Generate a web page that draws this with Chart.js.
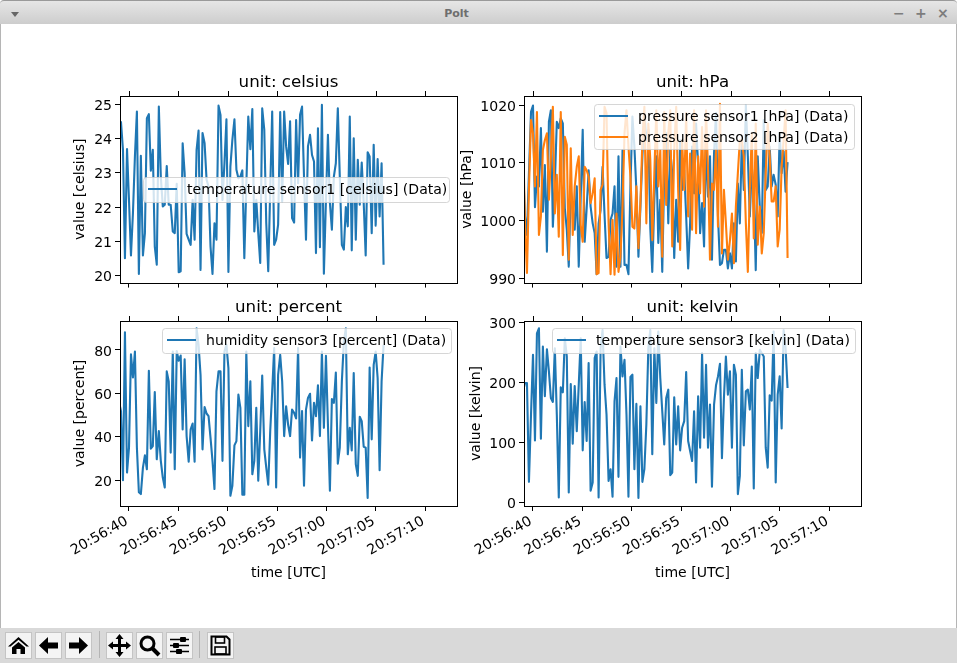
<!DOCTYPE html>
<html>
<head>
<meta charset="utf-8">
<title>Polt</title>
<script src="https://cdn.jsdelivr.net/npm/chart.js@4"></script>
<style>
  html, body { margin: 0; padding: 0; background: #fff; }
  body { width: 957px; height: 663px; position: relative; overflow: hidden; font-family: "DejaVu Sans", sans-serif; }
  canvas { position: absolute; }
  #titlebar { position: absolute; left: 0; top: 0; width: 957px; height: 24px; box-sizing: border-box;
    background: linear-gradient(#e6e6e6, #cdcdcd); border-top: 1px solid #9a9a9a; border-radius: 4px 4px 0 0;
    padding-right: 44px; text-align: center; font: bold 11px/26px "DejaVu Sans", sans-serif; color: #6e6e6e; }
  .winbtn { position: absolute; top: 0; font: bold 14px/25px "DejaVu Sans", sans-serif; color: #7d7d7d; }
  #menu { position: absolute; left: 11px; top: 11px; width: 0; height: 0; border-left: 4px solid transparent; border-right: 4px solid transparent; border-top: 5px solid #666; }
  #edge { position: absolute; left: 0; top: 24px; width: 955px; height: 604px; border-left: 1px solid #b5b5b5; border-right: 1px solid #b5b5b5; }
  #toolbar { position: absolute; left: 0; top: 628px; width: 957px; height: 35px; background: #d9d9d9; }
  .btn { position: absolute; top: 4px; width: 25px; height: 25px; background: #f4f4f4; border: 1px solid #fff; outline: 1px solid #c4c4c4; outline-offset: -1px; }
  .btn svg { width: 25px; height: 25px; display: block; }
  .sep { position: absolute; top: 3px; width: 1px; height: 27px; background: #b4b4b4; }
</style>
</head>
<body>
<div id="titlebar">Polt
  <span id="menu"></span>
  <span class="winbtn" style="left:893px">−</span>
  <span class="winbtn" style="left:915px">+</span>
  <span class="winbtn" style="left:937px">×</span>
</div>
<div id="edge"></div>
<canvas id="celsius" width="403" height="224" style="left:60px;top:70px"></canvas>
<canvas id="hpa" width="414" height="224" style="left:459px;top:70px"></canvas>
<canvas id="percent" width="403" height="291" style="left:60px;top:295px"></canvas>
<canvas id="kelvin" width="414" height="291" style="left:459px;top:295px"></canvas>
<div id="toolbar">
  <div class="btn" style="left:5px"><svg viewBox="0 0 25 25"><path d="M12.5 4 L23 13.5 L20.5 13.5 L12.5 6.8 L4.5 13.5 L2 13.5 Z M6 14.5 L12.5 9 L19 14.5 L19 21 L14.5 21 L14.5 16 L10.5 16 L10.5 21 L6 21 Z" fill="#000"/></svg></div>
  <div class="btn" style="left:35px"><svg viewBox="0 0 25 25"><path d="M3 12.5 L12 4 L12 9.5 L22 9.5 L22 15.5 L12 15.5 L12 21 Z" fill="#000"/></svg></div>
  <div class="btn" style="left:65px"><svg viewBox="0 0 25 25"><path d="M22 12.5 L13 4 L13 9.5 L3 9.5 L3 15.5 L13 15.5 L13 21 Z" fill="#000"/></svg></div>
  <div class="sep" style="left:99px"></div>
  <div class="btn" style="left:106px"><svg viewBox="0 0 25 25"><path d="M12.5 1 L16.5 6 L14 6 L14 11 L19 11 L19 8.5 L24 12.5 L19 16.5 L19 14 L14 14 L14 19 L16.5 19 L12.5 24 L8.5 19 L11 19 L11 14 L6 14 L6 16.5 L1 12.5 L6 8.5 L6 11 L11 11 L11 6 L8.5 6 Z" fill="#000"/></svg></div>
  <div class="btn" style="left:136px"><svg viewBox="0 0 25 25"><circle cx="10.5" cy="10.5" r="6.5" fill="none" stroke="#000" stroke-width="3"/><path d="M15 15 L22 22" stroke="#000" stroke-width="4"/></svg></div>
  <div class="btn" style="left:166px"><svg viewBox="0 0 25 25"><path d="M3 6.5 H22 M3 12.5 H22 M3 18.5 H22" stroke="#000" stroke-width="1.4"/><rect x="13" y="4" width="6" height="5" rx="1" fill="#000"/><rect x="6" y="10" width="6" height="5" rx="1" fill="#000"/><rect x="9" y="16" width="6" height="5" rx="1" fill="#000"/></svg></div>
  <div class="sep" style="left:199px"></div>
  <div class="btn" style="left:207px"><svg viewBox="0 0 25 25"><path d="M3.5 3.5 H18.5 L21.5 6.5 V21.5 H3.5 Z" fill="#f4f4f4" stroke="#000" stroke-width="2"/><rect x="7.5" y="4" width="9" height="6" fill="none" stroke="#000" stroke-width="1.6"/><rect x="7" y="14" width="11" height="7" fill="none" stroke="#000" stroke-width="1.6"/></svg></div>
</div>
<script>
// seconds past 20:56:00
const timeSeconds = [39.00,39.20,39.40,39.60,39.81,40.01,40.21,40.41,40.61,40.81,
  41.01,41.21,41.42,41.62,41.82,42.02,42.22,42.42,42.62,42.82,
  43.03,43.23,43.43,43.63,43.83,44.03,44.23,44.44,44.64,44.84,
  45.04,45.24,45.44,45.64,45.84,46.05,46.25,46.45,46.65,46.85,
  47.05,47.25,47.45,47.66,47.86,48.06,48.26,48.46,48.66,48.86,
  49.07,49.27,49.47,49.67,49.87,50.07,50.27,50.47,50.68,50.88,
  51.08,51.28,51.48,51.68,51.88,52.08,52.29,52.49,52.69,52.89,
  53.09,53.29,53.49,53.70,53.90,54.10,54.30,54.50,54.70,54.90,
  55.10,55.31,55.51,55.71,55.91,56.11,56.31,56.51,56.72,56.92,
  57.12,57.32,57.52,57.72,57.92,58.12,58.33,58.53,58.73,58.93,
  59.13,59.33,59.53,59.73,59.94,60.14,60.34,60.54,60.74,60.94,
  61.14,61.34,61.55,61.75,61.95,62.15,62.35,62.55,62.75,62.96,
  63.16,63.36,63.56,63.76,63.96,64.16,64.36,64.57,64.77,64.97,
  65.17,65.37,65.57,65.77];

const temperature1 = [24.48,24.48,23.67,20.51,23.69,22.21,20.59,21.83,23.48,24.79,
  20.05,23.5,20.59,21.24,24.59,24.71,23.06,23.67,20.85,20.32,
  24.93,22.89,22.02,22.07,23.2,22.07,22.07,21.29,21.24,22.68,
  20.1,20.13,23.86,22.99,21.22,21.05,20.9,22.21,21.05,23.67,
  24.23,20.17,24.16,23.86,22.8,22.6,20.85,20.05,21.53,21.05,
  24.96,24.69,22.21,23.28,24.56,20.11,23.18,23.96,24.56,23.09,
  22.84,22.89,23.07,20.51,22.6,24.64,23.69,24.86,21.29,22.21,
  21.24,20.37,24.88,24.25,21.53,20.13,22.5,24.79,20.9,21.05,
  21.49,24.77,22.16,24.79,23.77,23.26,24.5,21.68,21.55,24.54,
  22.7,24.69,24.93,22.89,21.05,23.77,24.11,23.52,23.33,20.66,
  24.3,20.83,24.98,20.06,22.21,24.11,22.12,21.34,22.89,23.28,
  24.88,22.89,20.9,20.76,22.0,21.44,24.64,20.74,24.01,21.05,
  23.38,22.07,23.3,22.12,20.59,23.6,23.48,21.24,23.82,21.46,
  23.4,21.73,23.28,20.32];

const pressure1 = [1009.3,1000.7,997.5,1008.2,1018.8,1019.9,1002.3,1007.6,1005.9,1016,
  1001.5,1009.6,994.6,1017.1,1019.1,998.9,1006.4,1017.1,1016,1017.7,
  1016.8,1002.1,998.4,992,1005.3,1002.4,998.4,1005.9,992,1004.1,
  1015.7,996.3,1002.1,1008.7,1002.4,999.5,997.8,990.7,999.5,1001.8,
  1009.3,1001,993.5,993.7,1000.1,1001.2,1005.9,992,1011.1,992,
  1012.2,992.3,992.3,990.7,1005.9,1018,1012.8,1005.3,993.7,1002.4,
  1011.1,1018.6,1013.9,1015.7,998.6,991.1,1003.6,1011.1,996.1,1003.6,
  991.1,1008.2,1015.1,999.5,1012.2,1008.2,993.5,1003.6,996.3,1013.9,
  1005.3,1008.7,1000.7,991.7,999.5,1012.8,1004.7,1016.8,1009.6,997.8,
  1003,995.5,1013.9,1004.1,1011.1,993.2,1011.6,1018.6,1000.7,992.3,
  992.6,994.9,994.9,991.7,994.3,991.7,999.5,992.9,1006.4,999.5,
  1013.9,1005.3,1020,1011.1,1000.7,1009.3,1005.3,991.4,1011.1,1002.4,
  997.8,1017.4,1005.3,1005.9,1012.8,1005.9,1007.9,1006.2,1000.7,1015.1,
  1008.2,1012,1005,1010.1];

const pressure2 = [1015.1,999.5,990.9,1005.3,1017.4,1015.1,1005.9,1018.8,997.5,1000.7,
  1012.2,1013.9,1015.1,1003.6,1011.1,1019.7,1001.2,1007.9,997.2,1018.8,
  994,1014.5,1013.1,993.2,1012.5,997.5,1005.9,1009.3,1011.1,999.2,
  996.3,1009.3,1008.7,1007.6,1003,1004.7,1007.3,990.7,990.9,1005.3,
  1006.2,1019.7,1018.6,999.5,990.7,1000.1,990.6,1001.2,991.1,993.7,
  1002.4,1015.1,1019.1,1012.8,1007.6,998.9,998.6,1005.9,995.2,1003,
  1013.9,1019.7,999.5,1016.8,1010.5,996.6,1008.2,1019.1,1005.9,1012.2,
  993.7,1018.8,1002.7,1015.1,1019.1,995.5,1012.2,1019.7,1005.3,994.9,
  1013.9,1005.3,1018.6,1000.7,1011.6,998.4,1019.1,997.8,1011.1,1004.7,
  1016.2,1002.4,1019.1,1008.7,993.2,1006.4,1005.3,1012.2,998.9,1020.2,
  994.3,1005.3,999.5,993.2,996.6,1001.2,992.6,1002.4,1008.2,1013.9,
  1013.9,1011.1,999.5,991.1,1005.3,1015.1,996.9,1016.8,995.8,1002.4,
  994.3,997.8,1008.2,1016.8,1011.1,1003.3,1003.3,1005.9,995.5,998.4,
  1009.3,1013.9,1019.1,993.5];

const humidity3 = [56.3,51.8,20,88.1,23.5,35,78,67.3,79.2,35,
  14.4,13.6,25.8,31.4,25,70.4,34.5,35.7,60.6,29.6,
  42.6,28.9,21.2,16.6,70.1,65.5,32.7,79.2,25,79.5,
  75,77.4,43.4,75.7,40.3,28.5,43.4,46.1,28.5,89.9,
  82.3,68.5,34.2,53.7,50.7,49.5,39.5,28.9,15.9,60.9,
  70.1,70.1,28.9,79.2,82.3,71.6,12.8,17.4,36,38,
  59.4,53.3,13.3,13.3,79.2,44.9,65.5,22.7,28.9,53.3,
  19.7,42.6,68.2,34.2,25.8,17.9,42.6,60.9,80.8,16.6,
  68.5,77.7,65.5,40.3,54,45.6,40.3,52.5,51,48.4,
  80.8,30.4,51.8,17.4,52.5,57.9,59.8,38.3,55.6,49.5,
  63.7,40.3,79.2,44.1,77.3,45.6,15.1,57.4,55.6,69.6,
  27.6,35,65.5,83.8,89.9,31.9,44.1,33.7,69.3,27.3,
  22,49.2,47.2,35.4,35,11.8,71.9,38.8,73.1,79.2,
  67,24.6,65.5,82.3];

const temperature3 = [185.3,199.1,199.1,34.7,146.7,245.9,103.6,281.8,290.1,106.4,
  259.7,177,255.3,218.4,174.2,167.6,257,146.7,8.8,191.9,
  183.6,273.5,243.2,17,197.4,98.1,194.1,119.1,196.3,273.5,
  87.1,167.6,102.5,232.2,19.8,33.6,240.4,251.5,8.8,257,
  287.3,196.3,146.7,36.3,55.7,9.9,168.7,207.3,43,259.7,
  210.1,237.7,146.7,9.9,209,212.9,55.7,164.3,7.7,160.5,
  34.7,55.7,130.1,257,287.3,80.5,257,166,284.6,207.3,
  152.2,97,174.2,188,45.7,50.1,175.3,97,160.5,87.1,
  124.6,135.6,217.3,102.5,86,69.4,152.2,33.6,177,91.5,
  248.7,108,229.4,91.5,163.2,26.4,163.2,195.2,210.1,231.1,
  73.9,174.2,243.2,179.8,218.4,91.5,229.4,212.9,14.3,44.6,
  221.1,95.4,185.3,188,154.9,226.6,23.7,248.7,207.3,254.2,
  248.7,243.2,91.5,58.4,178.7,169.8,284.6,33.6,179.8,210.1,
  123.5,287.3,257,190.8];

const xTickSeconds = [40, 45, 50, 55, 60, 65, 70];
const xTickLabels = ['20:56:40', '20:56:45', '20:56:50', '20:56:55', '20:57:00', '20:57:05', '20:57:10'];
const celsiusTicks = [20, 21, 22, 23, 24, 25];
const hpaTicks = [990, 1000, 1010, 1020];
const percentTicks = [20, 40, 60, 80];
const kelvinTicks = [0, 100, 200, 300];

const FONT = '"DejaVu Sans", sans-serif';
const LABEL_SIZE = 14.05;
const BLUE = '#1f77b4';
const ORANGE = '#ff7f0e';

function toPoints(values) {
  return values.map((v, i) => ({ x: timeSeconds[i], y: v }));
}

// box around the axes plus the small ticks along its top edge
const framePlugin = {
  id: 'frame',
  afterDatasetsDraw(chart) {
    const { ctx, chartArea: a, scales } = chart;
    ctx.save();
    ctx.strokeStyle = '#000';
    ctx.lineWidth = 1;
    ctx.strokeRect(Math.round(a.left) + 0.5, Math.round(a.top) + 0.5, Math.round(a.width), Math.round(a.height));
    xTickSeconds.forEach(t => {
      const px = Math.round(scales.x.getPixelForValue(t)) + 0.5;
      ctx.beginPath();
      ctx.moveTo(px, a.top);
      ctx.lineTo(px, a.top - 5);
      ctx.stroke();
    });
    ctx.restore();
  }
};

// matplotlib style legend sitting inside the axes
const insideLegend = {
  id: 'insideLegend',
  afterDatasetsDraw(chart, args, opts) {
    const ctx = chart.ctx;
    ctx.save();
    ctx.beginPath();
    ctx.roundRect(opts.left + 0.5, opts.top + 0.5, opts.width, opts.height, 3);
    ctx.fillStyle = 'rgba(255,255,255,0.8)';
    ctx.fill();
    ctx.strokeStyle = 'rgba(204,204,204,0.8)';
    ctx.lineWidth = 1;
    ctx.stroke();
    ctx.font = LABEL_SIZE + 'px ' + FONT;
    ctx.textBaseline = 'middle';
    chart.data.datasets.forEach((ds, i) => {
      const y = opts.top + 13.5 + i * 21;
      ctx.strokeStyle = ds.borderColor;
      ctx.lineWidth = 2;
      ctx.beginPath();
      ctx.moveTo(opts.left + 5, y - 1.5);
      ctx.lineTo(opts.left + 34, y - 1.5);
      ctx.stroke();
      ctx.fillStyle = '#000';
      ctx.fillText(ds.label, opts.left + 44, y);
    });
    ctx.restore();
  }
};

function makePanel(cfg) {
  new Chart(document.getElementById(cfg.id), {
    type: 'line',
    data: { datasets: cfg.series },
    plugins: [framePlugin, insideLegend],
    options: {
      responsive: false,
      animation: false,
      devicePixelRatio: 1,
      layout: { padding: { right: cfg.rightPad } },
      elements: { point: { radius: 0 }, line: { borderWidth: 2.1, tension: 0, borderJoinStyle: 'round' } },
      plugins: {
        legend: { display: false },
        tooltip: { enabled: false },
        title: {
          display: true, text: cfg.title, color: '#000', fullSize: false,
          font: { family: FONT, size: 16.67, weight: 'normal' },
          padding: { top: 3, bottom: 3 }
        },
        insideLegend: cfg.legend
      },
      scales: {
        x: {
          type: 'linear', min: 39.1, max: 73.2,
          afterBuildTicks: s => { s.ticks = xTickSeconds.map(v => ({ value: v })); },
          afterFit: s => { s.height = cfg.bottomRow ? 80 : 10; },
          grid: { drawOnChartArea: false, color: '#000', tickLength: 5, tickWidth: 1 },
          border: { display: false },
          ticks: {
            display: cfg.bottomRow, color: '#000', autoSkip: false, minRotation: 30, maxRotation: 30, padding: 2, labelOffset: -2,
            font: { family: FONT, size: LABEL_SIZE },
            callback: v => xTickLabels[xTickSeconds.indexOf(v)]
          },
          title: {
            display: cfg.bottomRow, text: 'time [UTC]', color: '#000',
            font: { family: FONT, size: LABEL_SIZE }, padding: { top: 0, bottom: 4 }
          }
        },
        y: {
          min: cfg.yMin, max: cfg.yMax,
          afterBuildTicks: s => { s.ticks = cfg.yTicks.map(v => ({ value: v })); },
          afterFit: s => { s.width = cfg.axisWidth; },
          grid: { drawOnChartArea: false, color: '#000', tickLength: 5, tickWidth: 1 },
          border: { display: false },
          ticks: { color: '#000', padding: 3, labelOffset: 2, font: { family: FONT, size: LABEL_SIZE }, callback: v => String(v) },
          title: {
            display: true, text: cfg.yLabel, color: '#000',
            font: { family: FONT, size: LABEL_SIZE }, padding: { top: cfg.yTitlePad, bottom: 0 }
          }
        }
      }
    }
  });
}

function line(label, values, color, order) {
  return { label: label, data: toPoints(values), borderColor: color, fill: false, order: order };
}

makePanel({
  id: 'celsius', title: 'unit: celsius', yLabel: 'value [celsius]',
  series: [line('temperature sensor1 [celsius] (Data)', temperature1, BLUE, 0)],
  yMin: 19.8, yMax: 25.24, yTicks: celsiusTicks,
  axisWidth: 60, rightPad: 6, yTitlePad: 12, bottomRow: false,
  legend: { left: 83, top: 107, width: 306, height: 25 }
});
makePanel({
  id: 'hpa', title: 'unit: hPa', yLabel: 'value [hPa]',
  series: [line('pressure sensor1 [hPa] (Data)', pressure1, BLUE, 1),
           line('pressure sensor2 [hPa] (Data)', pressure2, ORANGE, 0)],
  yMin: 989.24, yMax: 1021.56, yTicks: hpaTicks,
  axisWidth: 65, rightPad: 12, yTitlePad: 0, bottomRow: false,
  legend: { left: 135, top: 34, width: 260, height: 45 }
});
makePanel({
  id: 'percent', title: 'unit: percent', yLabel: 'value [percent]',
  series: [line('humidity sensor3 [percent] (Data)', humidity3, BLUE, 0)],
  yMin: 8.1, yMax: 93.3, yTicks: percentTicks,
  axisWidth: 60, rightPad: 6, yTitlePad: 12, bottomRow: true,
  legend: { left: 102, top: 33, width: 289, height: 25 }
});
makePanel({
  id: 'kelvin', title: 'unit: kelvin', yLabel: 'value [kelvin]',
  series: [line('temperature sensor3 [kelvin] (Data)', temperature3, BLUE, 0)],
  yMin: -5.5, yMax: 302.2, yTicks: kelvinTicks,
  axisWidth: 65, rightPad: 12, yTitlePad: 9, bottomRow: true,
  legend: { left: 93, top: 33, width: 303, height: 25 }
});
</script>
</body>
</html>
